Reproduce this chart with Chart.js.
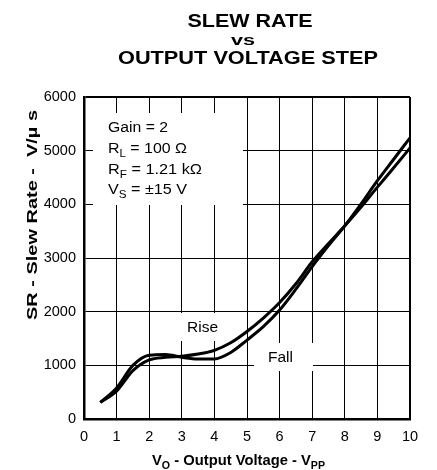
<!DOCTYPE html>
<html>
<head>
<meta charset="utf-8">
<script src="https://cdn.jsdelivr.net/npm/chart.js@4"></script>
<style>
  body { margin: 0; background: #fff; }
  canvas { display: block; }
</style>
</head>
<body>
<canvas id="chart-slew" width="437" height="470"></canvas>
<script>
// data
let voltage = [0.5, 1, 1.5, 2, 2.5, 3, 3.5, 4, 4.5, 5, 5.5, 6, 6.5, 7, 7.5, 8, 8.5, 9, 9.5, 10];
let riseSR = [310, 520, 900, 1100, 1150, 1170, 1210, 1280, 1420, 1630, 1880, 2170, 2520, 2930, 3270, 3600, 3950, 4320, 4680, 5050];
let fallSR = [310, 580, 1000, 1190, 1200, 1150, 1120, 1120, 1240, 1470, 1720, 2030, 2420, 2840, 3230, 3600, 4010, 4440, 4840, 5240];

let titleLines = ['SLEW RATE', 'vs', 'OUTPUT VOLTAGE STEP'];
let conditions = [
    [['Gain = 2', '']],
    [['R', ''], ['L', 'sub'], [' = 100 \u03A9', '']],
    [['R', ''], ['F', 'sub'], [' = 1.21 k\u03A9', '']],
    [['V', ''], ['S', 'sub'], [' = \u00B115 V', '']]
];
let xTitle = [['V', ''], ['O', 'sub'], [' - Output Voltage - V', ''], ['PP', 'sub']];
let yTitle = [['SR - Slew Rate -  V/\u00B5 s', '']];

const FONT = '"Liberation Sans", Arial, sans-serif';

function toPoints(xs, ys) {
    return xs.map((x, i) => ({x: x, y: ys[i]}));
}

// draws runs of text (with subscripts) squeezed/stretched to a given width
function drawRuns(ctx, runs, x, y, width, size, bold, align) {
    let w = bold ? 'bold ' : '';
    let natural = 0;
    runs.forEach(r => {
        ctx.font = w + (r[1] === 'sub' ? size * 0.72 : size) + 'px ' + FONT;
        natural += ctx.measureText(r[0]).width;
    });
    let sx = width ? width / natural : 1;
    let start = align === 'center' ? -natural / 2 : 0;
    ctx.save();
    ctx.translate(x, y);
    ctx.scale(sx, 1);
    ctx.fillStyle = '#000';
    ctx.textBaseline = 'alphabetic';
    ctx.textAlign = 'left';
    let cx = start;
    runs.forEach(r => {
        let sub = r[1] === 'sub';
        ctx.font = w + (sub ? size * 0.72 : size) + 'px ' + FONT;
        ctx.fillText(r[0], cx, sub ? size * 0.3 : 0);
        cx += ctx.measureText(r[0]).width;
    });
    ctx.restore();
}

let decorations = {
    id: 'decorations',
    beforeDatasetsDraw(chart) {
        let ctx = chart.ctx;
        // white boxes behind the labels cut the grid
        ctx.save();
        ctx.fillStyle = '#fff';
        ctx.fillRect(93, 113, 150, 92);
        ctx.fillRect(175, 313, 70, 28);
        ctx.fillRect(254, 343, 59, 28);
        ctx.restore();

        let lineY = [131.5, 153, 173.5, 194];
        let widths = [60, 79, 94, 79];
        conditions.forEach((runs, i) => drawRuns(ctx, runs, 108, lineY[i], widths[i], 14, false, 'left'));
        drawRuns(ctx, [['Rise', '']], 187, 331.5, 31, 14, false, 'left');
        drawRuns(ctx, [['Fall', '']], 268, 361.5, 25, 14, false, 'left');
    },
    afterDraw(chart) {
        let ctx = chart.ctx;
        drawRuns(ctx, [[titleLines[0], '']], 250, 27, 125, 18.5, true, 'center');
        drawRuns(ctx, [[titleLines[1], '']], 243, 45, 24, 15, true, 'center');
        drawRuns(ctx, [[titleLines[2], '']], 248, 63.5, 260, 18.5, true, 'center');

        drawRuns(ctx, xTitle, 152, 465, 173, 14, true, 'left');

        ctx.save();
        ctx.translate(37, 320);
        ctx.rotate(-Math.PI / 2);
        drawRuns(ctx, yTitle, 0, 0, 210, 14, true, 'left');
        ctx.restore();
    }
};

let edge = (max) => (c) => (c.tick && c.tick.value === max ? 2 : 1);

new Chart(document.getElementById('chart-slew').getContext('2d'), {
    type: 'line',
    data: {
        datasets: [{
            label: 'Rise',
            data: toPoints(voltage, riseSR),
            borderColor: '#000',
            borderWidth: 3,
            pointRadius: 0,
            cubicInterpolationMode: 'monotone',
            fill: false
        }, {
            label: 'Fall',
            data: toPoints(voltage, fallSR),
            borderColor: '#000',
            borderWidth: 3,
            pointRadius: 0,
            cubicInterpolationMode: 'monotone',
            fill: false
        }]
    },
    options: {
        responsive: false,
        animation: false,
        layout: {padding: {top: 97, right: 27, left: 0, bottom: 0}},
        plugins: {
            legend: {display: false},
            title: {display: false},
            tooltip: {enabled: false}
        },
        scales: {
            x: {
                type: 'linear',
                min: 0,
                max: 10,
                afterFit: (s) => { s.height = 51; },
                ticks: {stepSize: 1, color: '#000', padding: 9, maxRotation: 0, font: {family: FONT, size: 14.5}},
                grid: {color: '#000', lineWidth: edge(10), drawTicks: false},
                border: {color: '#000', width: 2.5}
            },
            y: {
                min: 0,
                max: 6000,
                afterFit: (s) => { s.width = 84; },
                ticks: {stepSize: 1000, color: '#000', padding: 8, font: {family: FONT, size: 14.5},
                    callback: (v) => String(v)},
                grid: {color: '#000', lineWidth: edge(6000), drawTicks: false},
                border: {color: '#000', width: 2.5}
            }
        }
    },
    plugins: [decorations]
});
</script>
</body>
</html>
